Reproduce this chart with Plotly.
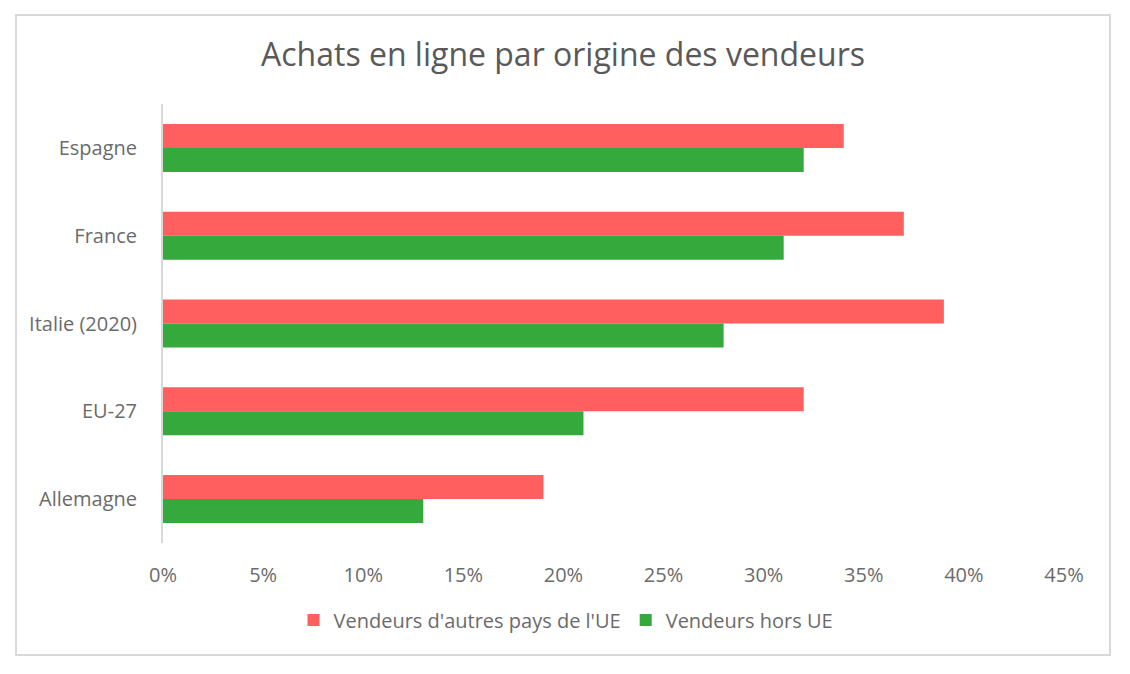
import plotly.graph_objects as go

categories = ["Espagne", "France", "Italie (2020)", "EU-27", "Allemagne"]
autres_ue = [34, 37, 39, 32, 19]
hors_ue = [32, 31, 28, 21, 13]
tick_vals = [0, 5, 10, 15, 20, 25, 30, 35, 40, 45]
tick_text = [f"{v}%" for v in tick_vals]

W, H = 1130, 674
L, R, T, B = 163, 1064, 104, 543

fig = go.Figure()
fig.add_trace(go.Bar(y=categories, x=autres_ue, orientation="h",
                     name="Vendeurs d'autres pays de l'UE",
                     marker=dict(color="#FF5F5F", line=dict(width=0))))
fig.add_trace(go.Bar(y=categories, x=hors_ue, orientation="h",
                     name="Vendeurs hors UE",
                     marker=dict(color="#36A93C", line=dict(width=0))))

font_color = "#6b6b6b"
fig.update_layout(
    width=W, height=H,
    margin=dict(l=L, r=W - R, t=T, b=H - B, pad=0),
    paper_bgcolor="white", plot_bgcolor="white",
    font=dict(family="Open Sans", color=font_color, size=20),
    barmode="group", bargap=0.453, bargroupgap=0,
    title=dict(text="Achats en ligne par origine des vendeurs",
               x=(563) / W, xanchor="center", y=1 - 55 / H, yanchor="middle",
               font=dict(size=32, color="#595959", family="Open Sans")),
    xaxis=dict(range=[0, 45], tickvals=tick_vals, ticktext=tick_text,
               showgrid=False, zeroline=False, showline=False,
               ticks="", ticklabelstandoff=18,
               tickfont=dict(size=20, color=font_color), fixedrange=True),
    yaxis=dict(autorange="reversed", showgrid=False, zeroline=False,
               showline=True, linecolor="#d9d9d9", linewidth=2,
               ticks="", ticklabelstandoff=20,
               tickfont=dict(size=20, color=font_color)),
    legend=dict(orientation="h", x=(566 - L) / (R - L), xanchor="center",
                y=-(620 - B) / (B - T), yanchor="middle",
                font=dict(size=20, color=font_color),
                itemwidth=30, traceorder="normal"),
    showlegend=True,
)

fig.add_shape(type="rect", xref="paper", yref="paper",
              x0=(16 - L) / (R - L), x1=(1110 - L) / (R - L),
              y0=(B - 655) / (B - T), y1=(B - 15) / (B - T),
              line=dict(color="#d9d9d9", width=2), fillcolor="rgba(0,0,0,0)",
              layer="below")

fig.write_html("out.html")
